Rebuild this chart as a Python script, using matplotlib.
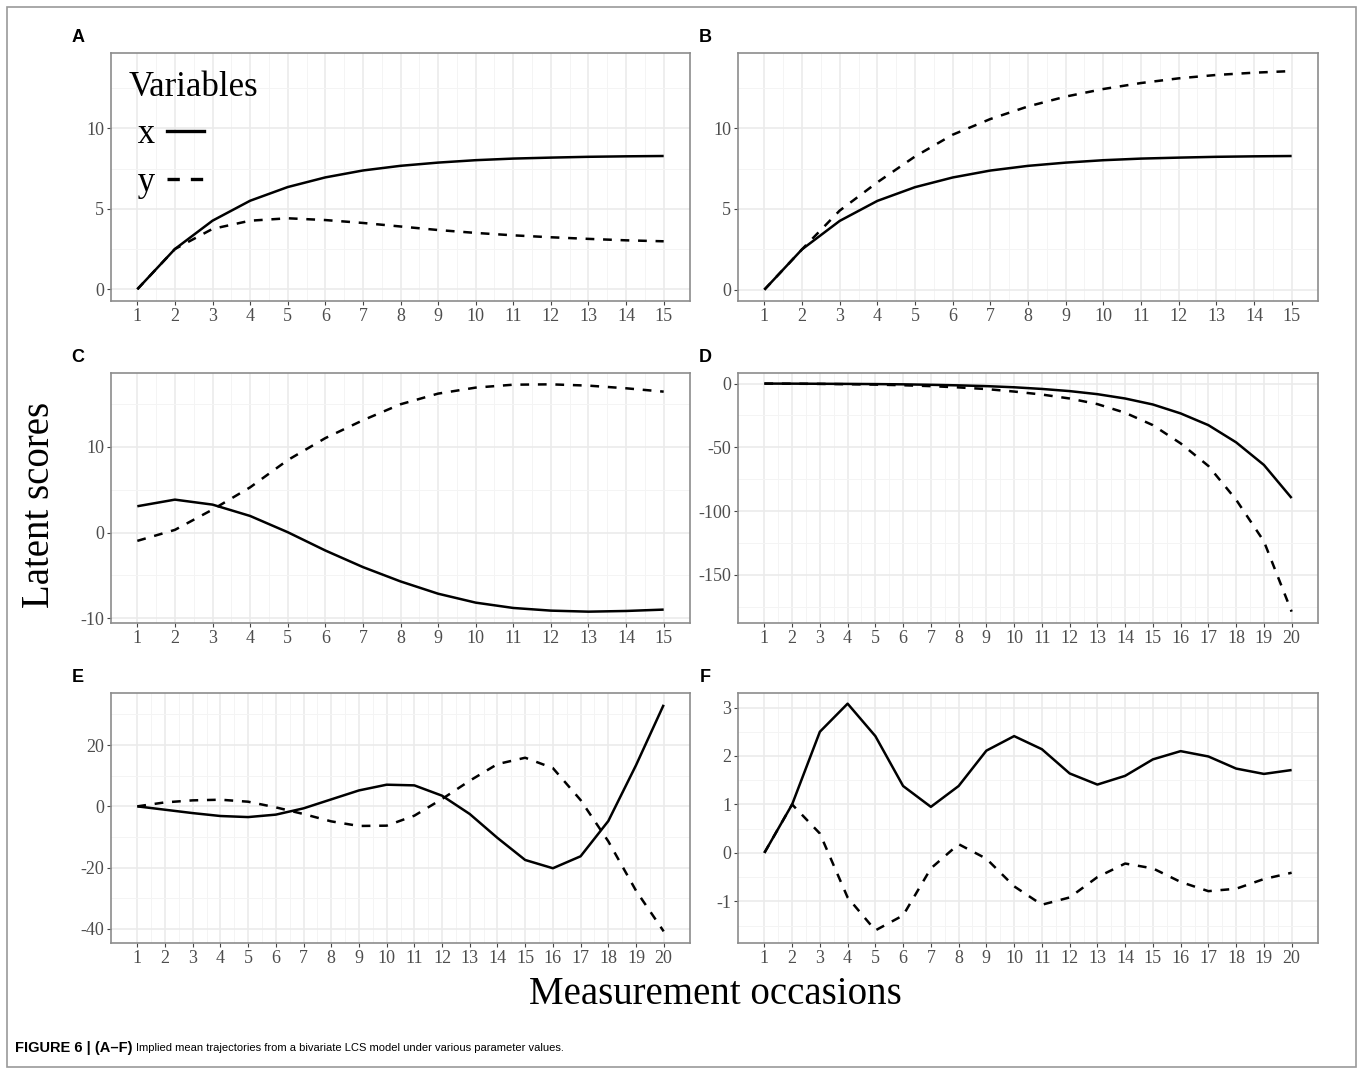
import matplotlib
matplotlib.use("Agg")
import matplotlib.pyplot as plt
from matplotlib.lines import Line2D
from matplotlib.patches import Rectangle

plt.rcParams["axes.unicode_minus"] = False

# Measurement occasions
occ15 = list(range(1, 16))
occ20 = list(range(1, 21))

# Panel A
a_x = [0, 2.5, 4.26, 5.5, 6.35, 6.95, 7.38, 7.67, 7.87, 8.02, 8.12, 8.18, 8.23, 8.26, 8.28]
a_y = [0, 2.5, 3.75, 4.26, 4.41, 4.3, 4.12, 3.9, 3.68, 3.5, 3.35, 3.23, 3.13, 3.04, 2.98]
# Panel B
b_x = [0, 2.5, 4.26, 5.5, 6.35, 6.95, 7.38, 7.67, 7.87, 8.02, 8.12, 8.18, 8.23, 8.26, 8.28]
b_y = [0, 2.5, 4.9, 6.65, 8.25, 9.6, 10.57, 11.35, 11.96, 12.43, 12.8, 13.09, 13.3, 13.44, 13.54]
# Panel C
c_x = [3.06, 3.83, 3.25, 1.93, 0.04, -2.09, -4.02, -5.69, -7.12, -8.16, -8.78, -9.09, -9.21, -9.13, -8.97]
c_y = [-0.97, 0.31, 2.67, 5.26, 8.43, 10.99, 13.07, 14.93, 16.17, 16.87, 17.21, 17.25, 17.1, 16.79, 16.4]
# Panel D
d_x = [0, -0.05, -0.15, -0.25, -0.4, -0.6, -0.95, -1.4, -2.0, -2.9, -4.2, -5.9, -8.3, -11.7,
       -16.4, -23.4, -32.6, -46.1, -63.8, -89.8]
d_y = [0, -0.1, -0.25, -0.5, -0.8, -1.3, -2.0, -3.0, -4.3, -6.25, -8.6, -11.7, -16.1, -22.9,
       -32.6, -46.9, -64.6, -91.1, -123.7, -178.9]
# Panel E
e_x = [0, -1.1, -2.2, -3.15, -3.5, -2.7, -0.65, 2.28, 5.2, 7.07, 6.85, 3.48, -2.5, -10.3,
       -17.5, -20.2, -16.3, -4.8, 13.4, 33.15]
e_y = [0, 1.3, 1.96, 2.17, 1.52, -0.33, -2.5, -4.9, -6.4, -6.3, -3.04, 2.4, 8.37, 13.8,
       15.87, 12.5, 2.07, -11.4, -27.5, -40.8]
# Panel F
f_x = [0, 1.0, 2.5, 3.08, 2.41, 1.38, 0.95, 1.38, 2.11, 2.41, 2.14, 1.64, 1.41, 1.59,
       1.93, 2.1, 1.99, 1.74, 1.63, 1.71]
f_y = [0, 1.0, 0.4, -0.92, -1.6, -1.29, -0.32, 0.18, -0.12, -0.69, -1.07, -0.92, -0.5, -0.22,
       -0.32, -0.6, -0.79, -0.74, -0.54, -0.41]

SERIF = "Liberation Serif"
LW = 1.8
DASH = (3.5, 3.5)

fig = plt.figure(figsize=(13.58, 10.74), dpi=100)
W, H = 1358, 1074


def box(left, top, right, bottom):
    return [left / W, 1 - bottom / H, (right - left) / W, (bottom - top) / H]


def panel(rect, occ, xv, yv, ylim, yticks, yminor, letter):
    ax = fig.add_axes(rect)
    n = len(occ)
    pad = (n - 1) * 0.05
    ax.set_xlim(1 - pad, n + pad)
    ax.set_ylim(*ylim)
    ax.set_xticks(occ)
    ax.set_xticks([i + 0.5 for i in occ[:-1]], minor=True)
    ax.set_yticks(yticks)
    ax.set_yticks(yminor, minor=True)
    ax.grid(True, which="major", color="#EBEBEB", lw=1.2)
    ax.grid(True, which="minor", color="#F4F4F4", lw=0.7)
    ax.set_axisbelow(True)
    ax.tick_params(which="major", length=3, width=0.8, color="#444444",
                   labelsize=13, labelcolor="#4D4D4D", pad=2)
    ax.tick_params(which="minor", length=0)
    for lab in ax.get_xticklabels() + ax.get_yticklabels():
        lab.set_fontfamily(SERIF)
    for s in ax.spines.values():
        s.set_color("#8C8C8C")
        s.set_linewidth(1.2)
    ax.plot(occ, xv, color="black", lw=LW, solid_capstyle="butt")
    ax.plot(occ, yv, color="black", lw=LW, dashes=DASH)
    x0, y0, w, h = rect
    fig.text(x0 - 33 / W, y0 + h + 16 / H, letter, fontsize=13, fontweight="bold",
             family="Liberation Sans", ha="center", va="center")
    return ax


ax_a = panel(box(111, 53, 690, 301), occ15, a_x, a_y, (-0.73, 14.68), [0, 5, 10],
             [2.5, 7.5, 12.5], "A")
panel(box(738, 53, 1318, 301), occ15, b_x, b_y, (-0.7, 14.66), [0, 5, 10],
      [2.5, 7.5, 12.5], "B")
panel(box(111, 373, 690, 623), occ15, c_x, c_y, (-10.53, 18.57), [-10, 0, 10],
      [-5, 5, 15], "C")
panel(box(738, 373, 1318, 623), occ20, d_x, d_y, (-187.8, 8.3), [-150, -100, -50, 0],
      [-175, -125, -75, -25], "D")
panel(box(111, 693, 690, 943), occ20, e_x, e_y, (-44.6, 37.0), [-40, -20, 0, 20],
      [-30, -10, 10, 30], "E")
panel(box(738, 693, 1318, 943), occ20, f_x, f_y, (-1.86, 3.30), [-1, 0, 1, 2, 3],
      [-1.5, -0.5, 0.5, 1.5, 2.5], "F")

# legend inside panel A
handles = [Line2D([], [], color="black", lw=2.4),
           Line2D([], [], color="black", lw=2.4, dashes=(3.7, 3.3))]
leg = ax_a.legend(handles, [" x", " y"], title="Variables", loc="upper left",
                  bbox_to_anchor=(-0.017, 1.04), frameon=False, markerfirst=False,
                  prop={"family": SERIF, "size": 25},
                  title_fontproperties={"family": SERIF, "size": 25},
                  handlelength=1.05, handletextpad=0.35, labelspacing=0.42,
                  borderpad=0.3, alignment="left")

fig.text(40 / W, 1 - 505 / H, "Latent scores", rotation=90, family=SERIF, fontsize=28,
         ha="center", va="center")
fig.text(715 / W, 1 - 995 / H, "Measurement occasions", family=SERIF, fontsize=28,
         ha="center", va="center")

# caption
cap_font = ["Liberation Sans Narrow", "Liberation Sans"]
t1 = fig.text(15 / W, 1 - 1048 / H, "FIGURE 6 | (A\u2013F)", family=cap_font, fontsize=10.5,
              fontweight="bold", ha="left", va="center")
fig.canvas.draw()
bb = t1.get_window_extent()
fig.text((bb.x1 + 4) / W, 1 - 1048 / H,
         "Implied mean trajectories from a bivariate LCS model under various parameter values.",
         family=cap_font, fontsize=8.0, ha="left", va="center")

# outer frame
fig.patches.append(Rectangle((7 / W, 1 - 1067 / H), (1356 - 7) / W, (1067 - 7) / H,
                             transform=fig.transFigure, fill=False, edgecolor="#9A9A9A",
                             lw=1.2))

fig.savefig("out.png", dpi=100)
